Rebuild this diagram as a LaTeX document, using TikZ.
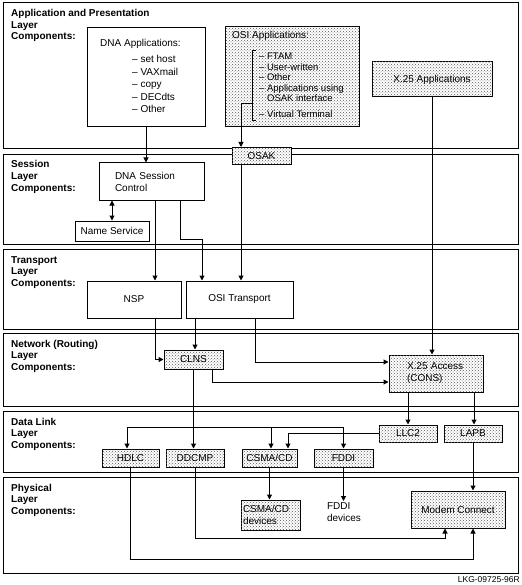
\documentclass[tikz,border=0pt]{standalone}
\usepackage{fontspec}
\setmainfont{Liberation Sans}
\usepackage{tikz}
\usetikzlibrary{calc,patterns,arrows.meta}
\tikzset{
	band/.style={draw, line width=1pt},
	bandlabel/.style={anchor=base west, align=left, inner sep=0pt, font=\bfseries\fontsize{10}{11.5}\selectfont},
	comp/.style={draw, line width=1pt, fill=white, inner sep=1pt},
	dotcomp/.style={comp, postaction={pattern=crosshatch dots, pattern color=black!65}},
	link/.style={line width=1pt, -{Triangle[length=5pt,width=5pt]}},
	dlink/.style={line width=1pt, {Triangle[length=5pt,width=5pt]}-{Triangle[length=5pt,width=5pt]}},
}

\begin{document}
\begin{tikzpicture}[x=1pt, y=-1pt, font=\fontsize{10}{12}\selectfont]
			%%%%% START %%%%%
			\useasboundingbox (0,0) rectangle (521,585);
			
			\draw[band] (3,3) rectangle (518,149);
			\draw[band] (3,155) rectangle (518,244);
			\draw[band] (3,249) rectangle (518,329);
			\draw[band] (3,333) rectangle (518,406);
			\draw[band] (3,411) rectangle (518,472);
			\draw[band] (3,477) rectangle (518,573);
			
			% anchor is the baseline of the last line
			\node[bandlabel] (lapp) at (11,40) {Application and Presentation\\Layer\\Components:};
			\node[bandlabel] (lses) at (11,191) {Session\\Layer\\Components:};
			\node[bandlabel] (ltra) at (11,286) {Transport\\Layer\\Components:};
			\node[bandlabel] (lnet) at (11,370) {Network (Routing)\\Layer\\Components:};
			\node[bandlabel] (ldat) at (11,448) {Data Link\\Layer\\Components:};
			\node[bandlabel] (lphy) at (11,514) {Physical\\Layer\\Components:};
			
			% application and presentation
			\node[comp, minimum width=118, minimum height=99] (dnaapp) at (146,77.5) {};
			\node[anchor=base west, inner sep=0pt] (dnatitle) at (100,47) {DNA Applications:};
			\node[anchor=base west, align=left, inner sep=0pt, font=\fontsize{10}{12.5}\selectfont] (dnalist) at (132,113) {– set host\\– VAXmail\\– copy\\– DECdts\\– Other};
			
			\node[dotcomp, minimum width=134, minimum height=100] (osiapp) at (292,77) {};
			\node[anchor=base west, inner sep=0pt] (osititle) at (232,39) {OSI Applications:};
			\node[anchor=base west, align=left, inner sep=0pt, font=\fontsize{9.5}{10.5}\selectfont] (osilist) at (259,118) {– FTAM\\– User-written\\– Other\\– Applications using\\\phantom{– }OSAK interface\\[5.5pt]– Virtual Terminal};
			\draw[line width=1pt] (256,51) -- (252,51) -- (252,121) -- (256,121);
			\coordinate (osibr) at (252,104);
			
			\node[dotcomp, minimum width=120, minimum height=35] (x25app) at (432,79.5) {X.25 Applications};
			\node[dotcomp, minimum width=59, minimum height=17] (osak) at (261.5,156) {OSAK};
			
			% session
			\node[comp, minimum width=105, minimum height=37, text width=73, align=left] (dnasc) at (151.5,181.5) {DNA Session\\Control};
			\node[comp, minimum width=74, minimum height=20] (ns) at (112,231) {Name Service};
			
			% transport
			\node[comp, minimum width=94, minimum height=37] (nsp) at (134,299.5) {NSP};
			\node[comp, minimum width=107, minimum height=37] (osit) at (239.5,299.5) {OSI Transport};
			
			% network
			\node[dotcomp, minimum width=59, minimum height=19] (clns) at (193.5,359.5) {CLNS};
			\node[dotcomp, minimum width=94, minimum height=37, text width=58, align=left] (x25acc) at (436,373.5) {X.25 Access\\(CONS)};
			
			% data link
			\node[dotcomp, minimum width=58, minimum height=17] (llc) at (408,433.5) {LLC2};
			\node[dotcomp, minimum width=58, minimum height=17] (lapb) at (473,433.5) {LAPB};
			\node[dotcomp, minimum width=57, minimum height=18] (hdlc) at (130.5,458) {HDLC};
			\node[dotcomp, minimum width=58, minimum height=18] (ddcmp) at (195,458) {DDCMP};
			\node[dotcomp, minimum width=55, minimum height=18] (csma) at (269.5,458) {CSMA/CD};
			\node[dotcomp, minimum width=59, minimum height=18] (fddi) at (343.5,458) {FDDI};
			\coordinate (dlbus) at (0,427);
			
			% physical
			\node[dotcomp, minimum width=59, minimum height=30, text width=55, align=left] (csmadev) at (270.5,515) {CSMA/CD\\devices};
			\node[anchor=north, align=left, inner sep=1pt] (fddidev) at (344,501) {FDDI\\devices};
			\node[dotcomp, minimum width=94, minimum height=37] (modem) at (458,509.5) {Modem Connect};
			
			\node[anchor=base east, inner sep=0pt, font=\fontsize{8.5}{10}\selectfont] (lkg) at (520,582) {LKG-09725-96R};
			
			% connectors
			\draw[link] (dnaapp.south) -- (dnaapp.south |- dnasc.north);
			\draw[dlink] (dnasc.south -| ns.north) -- (ns.north);
			\draw[link] ([xshift=3.5]dnasc.south) -- ([xshift=3.5]dnasc.south |- nsp.north);
			\draw[link] ([xshift=28.5]dnasc.south) -- ++(0,39) -| ([xshift=-37.5]osit.north);
			\draw[link] (osibr) -| ([xshift=-20.5]osak.north);
			\draw[link] ([xshift=-20.5]osak.south) -- ([xshift=-20.5]osak.south |- osit.north);
			\draw[link] (x25app.south) -- (x25app.south |- x25acc.north);
			
			\draw[link] ([xshift=21]nsp.south) |- (clns.west);
			\draw[link] ([xshift=-44.5]osit.south) -- ([xshift=-44.5]osit.south |- clns.north);
			\draw[link] ([xshift=15.5]osit.south) |- ([yshift=11.5]x25acc.west);
			\draw[link] ([xshift=18.5]clns.south) |- ([yshift=-8.5]x25acc.west);
			
			\draw[link] (clns.south) -- (clns.south |- ddcmp.north);
			\draw[link] (clns.south |- dlbus) -| ([xshift=-3.5]hdlc.north);
			\draw[link] (clns.south |- dlbus) -| ([xshift=1.5]csma.north);
			\draw[link] (clns.south |- dlbus) -| (fddi.north);
			\draw[link] (llc.west) -| ([xshift=18.5]csma.north);
			\draw[link] ([xshift=-28]x25acc.south) -- (llc.north);
			\draw[link] ([xshift=38]x25acc.south) -- ([xshift=38]x25acc.south |- lapb.north);
			
			\draw[link] (csma.south) -- (csma.south |- csmadev.north);
			\draw[link] (fddi.south) -- (fddi.south |- fddidev.north);
			\draw[link] (lapb.south) -- (lapb.south |- modem.north);
			\draw[link] (ddcmp.south) -- ++(0,71) -| ([xshift=-13]modem.south);
			\draw[link] (hdlc.south) -- ++(0,92) -| ([xshift=15]modem.south);
			
			%%%%% END %%%%%
\end{tikzpicture}
\end{document}
